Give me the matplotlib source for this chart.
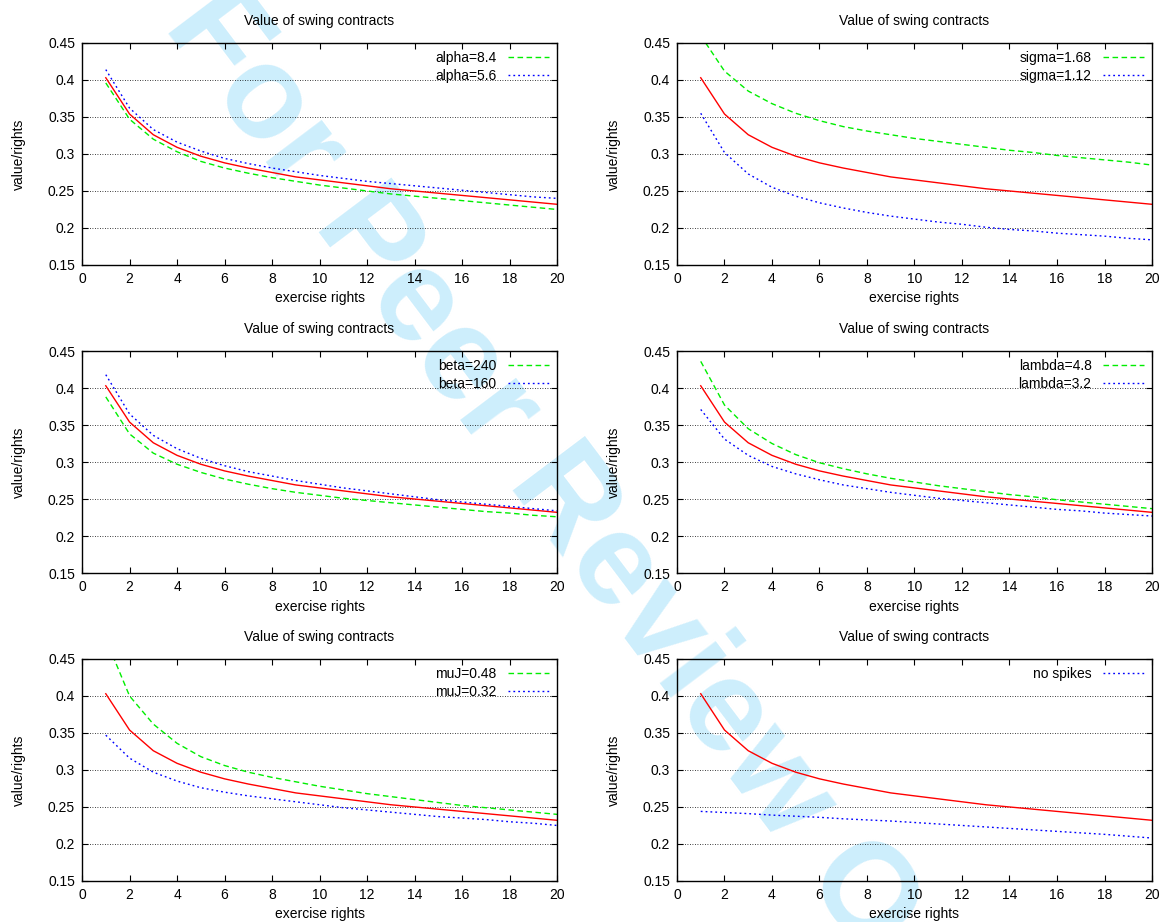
import matplotlib
matplotlib.use("Agg")
import matplotlib.pyplot as plt

plt.rcParams['font.family'] = ['Liberation Sans', 'DejaVu Sans']

rights = list(range(1, 21))

# base case (red, no legend entry) - same in every panel
base = [0.403, 0.354, 0.326, 0.309, 0.297, 0.288, 0.281, 0.275, 0.269, 0.265,
        0.261, 0.257, 0.253, 0.250, 0.247, 0.244, 0.241, 0.238, 0.235, 0.232]

alpha_hi = [0.396, 0.347, 0.320, 0.303, 0.290, 0.281, 0.274, 0.268, 0.263, 0.258,
            0.254, 0.250, 0.246, 0.243, 0.240, 0.237, 0.234, 0.231, 0.228, 0.225]
alpha_lo = [0.414, 0.362, 0.333, 0.316, 0.304, 0.294, 0.287, 0.281, 0.276, 0.271,
            0.267, 0.263, 0.260, 0.257, 0.254, 0.251, 0.248, 0.245, 0.242, 0.240]

sigma_hi = [0.460, 0.412, 0.385, 0.368, 0.355, 0.345, 0.337, 0.331, 0.326, 0.321,
            0.317, 0.313, 0.309, 0.305, 0.302, 0.298, 0.295, 0.292, 0.289, 0.285]
sigma_lo = [0.355, 0.302, 0.273, 0.255, 0.243, 0.234, 0.227, 0.221, 0.216, 0.212,
            0.208, 0.205, 0.201, 0.198, 0.196, 0.193, 0.191, 0.189, 0.186, 0.184]

beta_hi = [0.388, 0.338, 0.312, 0.297, 0.286, 0.277, 0.270, 0.264, 0.259, 0.255,
           0.251, 0.248, 0.245, 0.242, 0.239, 0.236, 0.233, 0.231, 0.228, 0.226]
beta_lo = [0.418, 0.365, 0.336, 0.318, 0.305, 0.295, 0.287, 0.281, 0.275, 0.270,
           0.265, 0.261, 0.257, 0.253, 0.249, 0.246, 0.243, 0.240, 0.237, 0.234]

lambda_hi = [0.436, 0.377, 0.345, 0.325, 0.310, 0.299, 0.291, 0.284, 0.278, 0.273,
             0.268, 0.264, 0.260, 0.256, 0.253, 0.249, 0.246, 0.243, 0.240, 0.237]
lambda_lo = [0.371, 0.331, 0.309, 0.294, 0.284, 0.276, 0.269, 0.264, 0.259, 0.255,
             0.251, 0.248, 0.245, 0.242, 0.239, 0.236, 0.234, 0.231, 0.229, 0.227]

muj_hi = [0.477, 0.400, 0.362, 0.336, 0.318, 0.306, 0.297, 0.290, 0.284, 0.278,
          0.273, 0.268, 0.264, 0.260, 0.256, 0.252, 0.249, 0.246, 0.243, 0.240]
muj_lo = [0.347, 0.316, 0.297, 0.285, 0.276, 0.270, 0.265, 0.261, 0.257, 0.253,
          0.249, 0.246, 0.243, 0.240, 0.237, 0.235, 0.233, 0.230, 0.228, 0.225]

no_spikes = [0.244, 0.2425, 0.241, 0.239, 0.2375, 0.236, 0.234, 0.2325, 0.231, 0.229,
             0.227, 0.225, 0.223, 0.221, 0.219, 0.217, 0.215, 0.213, 0.2105, 0.208]

# (green label, green values, blue label, blue values)
panels = [
    ("alpha=8.4", alpha_hi, "alpha=5.6", alpha_lo),
    ("sigma=1.68", sigma_hi, "sigma=1.12", sigma_lo),
    ("beta=240", beta_hi, "beta=160", beta_lo),
    ("lambda=4.8", lambda_hi, "lambda=3.2", lambda_lo),
    ("muJ=0.48", muj_hi, "muJ=0.32", muj_lo),
    (None, None, "no spikes", no_spikes),
]

yticks = [0.15, 0.2, 0.25, 0.3, 0.35, 0.4, 0.45]
ytick_labels = ["0.15", "0.2", "0.25", "0.3", "0.35", "0.4", "0.45"]
xticks = list(range(0, 21, 2))

fig = plt.figure(figsize=(11.62, 9.22), dpi=100)

# watermark behind the plots
fig.text(0.140, 0.972, "For Peer Review Only", rotation=-53.0, rotation_mode='anchor',
         ha='left', va='baseline', fontsize=95, fontweight='bold',
         family='Liberation Sans', color='#cdeefc', zorder=-1)

lefts = [0.0706, 0.5826]
bottoms = [0.7126, 0.3785, 0.0445]
w, h = 0.4088, 0.2408

for i, (g_lab, g_val, b_lab, b_val) in enumerate(panels):
    ax = fig.add_axes([lefts[i % 2], bottoms[i // 2], w, h])
    ax.set_facecolor('none')
    ax.plot(rights, base, color='red', lw=1.0)
    if g_val is not None:
        ax.plot(rights, g_val, color='#00ee00', lw=1.0, dashes=(4, 2.5), label=g_lab)
    ax.plot(rights, b_val, color='#0000ff', lw=1.0, dashes=(1.3, 2.2), label=b_lab)

    ax.set_xlim(0, 20)
    ax.set_ylim(0.15, 0.45)
    ax.set_xticks(xticks)
    ax.set_yticks(yticks)
    ax.set_yticklabels(ytick_labels)
    ax.tick_params(direction='in', top=True, right=True, length=4, width=0.8,
                   labelsize=10, pad=5)
    ax.yaxis.grid(True, linestyle=(0, (1, 2)), color='black', lw=0.6)
    for s in ax.spines.values():
        s.set_linewidth(1.0)

    ax.set_title("Value of swing contracts", fontsize=10, pad=13)
    ax.set_xlabel("exercise rights", fontsize=10, labelpad=4)
    ax.set_ylabel("value/rights", fontsize=10, labelpad=16)
    ax.legend(loc='upper right', frameon=False, markerfirst=False, fontsize=10,
              handlelength=3.0, handletextpad=0.8, labelspacing=0.3,
              borderaxespad=0.15)

fig.savefig("out.png", dpi=100)
